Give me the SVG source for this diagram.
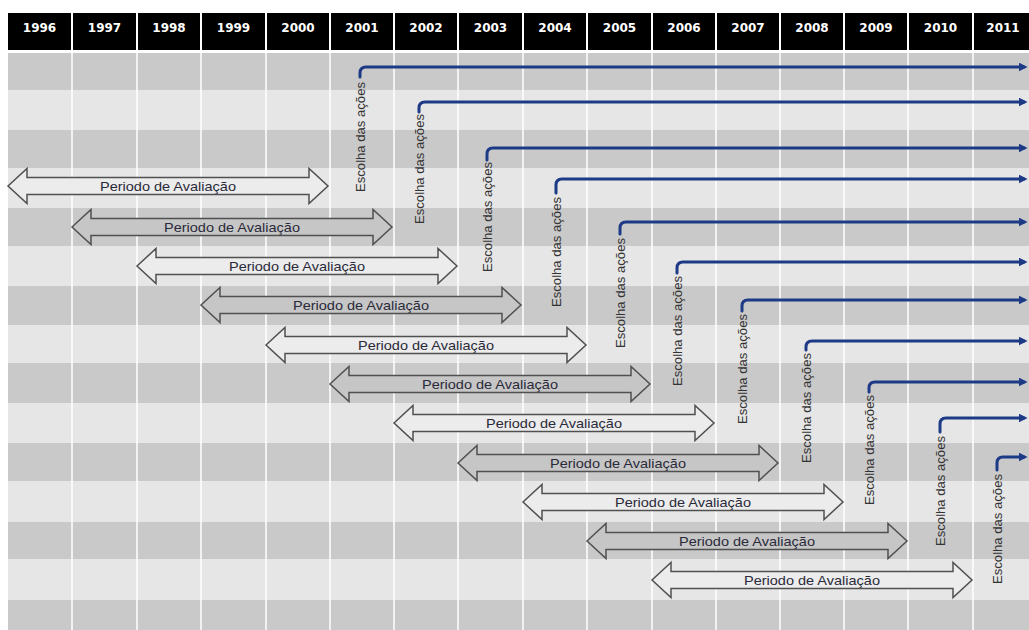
<svg xmlns="http://www.w3.org/2000/svg" xmlns:xlink="http://www.w3.org/1999/xlink" width="1029" height="630" viewBox="0 0 1029 630">
<style>
.hdr{fill:#000}
.yr{fill:#fff;font-family:"DejaVu Sans",Verdana,sans-serif;font-weight:bold;font-size:12px;text-anchor:middle}
.rd{fill:#c9c9c9}
.rl{fill:#e6e6e6}
.col{stroke:#ffffff;stroke-opacity:0.75;stroke-width:2}
.pl{fill:#ececec;stroke:#505050;stroke-width:1.5}
.pd{fill:#c6c6c6;stroke:#505050;stroke-width:1.5}
.pt{fill:#2a2a3a;font-family:"Liberation Sans",Arial,sans-serif;font-size:13px;text-anchor:middle}
.ct{fill:#333;font-family:"Liberation Sans",Arial,sans-serif;font-size:13px;text-anchor:middle}
.cn{fill:none;stroke:#1c3a86;stroke-width:3;stroke-linecap:round;marker-end:url(#ah)}
</style>
<defs>
<marker id="ah" viewBox="0 0 10 10" refX="6" refY="5" markerWidth="3" markerHeight="3" orient="auto" markerUnits="strokeWidth">
<path d="M0,0 L10,5 L0,10 Z" fill="#1c3a86"/>
</marker>
<path id="pa" d="M0,0 L19,-17.5 L19,-8.5 L301,-8.5 L301,-17.5 L320,0 L301,17.5 L301,8.5 L19,8.5 L19,17.5 Z"/>
</defs>
<rect width="1029" height="630" fill="#fff"/>
<g id="header">
<rect class="hdr" x="8" y="13" width="63" height="37"/>
<rect class="hdr" x="73" y="13" width="63" height="37"/>
<rect class="hdr" x="138" y="13" width="62" height="37"/>
<rect class="hdr" x="202" y="13" width="63" height="37"/>
<rect class="hdr" x="267" y="13" width="62" height="37"/>
<rect class="hdr" x="331" y="13" width="62" height="37"/>
<rect class="hdr" x="395" y="13" width="62" height="37"/>
<rect class="hdr" x="459" y="13" width="63" height="37"/>
<rect class="hdr" x="524" y="13" width="62" height="37"/>
<rect class="hdr" x="588" y="13" width="63" height="37"/>
<rect class="hdr" x="653" y="13" width="62" height="37"/>
<rect class="hdr" x="717" y="13" width="62" height="37"/>
<rect class="hdr" x="781" y="13" width="62" height="37"/>
<rect class="hdr" x="845" y="13" width="62" height="37"/>
<rect class="hdr" x="909" y="13" width="63" height="37"/>
<rect class="hdr" x="974" y="13" width="55" height="37"/>
<text class="yr" x="39.5" y="32">1996</text>
<text class="yr" x="104.5" y="32">1997</text>
<text class="yr" x="169" y="32">1998</text>
<text class="yr" x="233.5" y="32">1999</text>
<text class="yr" x="298" y="32">2000</text>
<text class="yr" x="362" y="32">2001</text>
<text class="yr" x="426" y="32">2002</text>
<text class="yr" x="490.5" y="32">2003</text>
<text class="yr" x="555" y="32">2004</text>
<text class="yr" x="619.5" y="32">2005</text>
<text class="yr" x="684" y="32">2006</text>
<text class="yr" x="748" y="32">2007</text>
<text class="yr" x="812" y="32">2008</text>
<text class="yr" x="876" y="32">2009</text>
<text class="yr" x="940.5" y="32">2010</text>
<text class="yr" x="1003" y="32">2011</text>
</g>
<g id="grid">
<rect class="rd" x="8" y="53" width="1021" height="37"/>
<rect class="rl" x="8" y="90" width="1021" height="40"/>
<rect class="rd" x="8" y="130" width="1021" height="38"/>
<rect class="rl" x="8" y="168" width="1021" height="40"/>
<rect class="rd" x="8" y="208" width="1021" height="38"/>
<rect class="rl" x="8" y="246" width="1021" height="40"/>
<rect class="rd" x="8" y="286" width="1021" height="39"/>
<rect class="rl" x="8" y="325" width="1021" height="38"/>
<rect class="rd" x="8" y="363" width="1021" height="40"/>
<rect class="rl" x="8" y="403" width="1021" height="40"/>
<rect class="rd" x="8" y="443" width="1021" height="38"/>
<rect class="rl" x="8" y="481" width="1021" height="41"/>
<rect class="rd" x="8" y="522" width="1021" height="37"/>
<rect class="rl" x="8" y="559" width="1021" height="41"/>
<rect class="rd" x="8" y="600" width="1021" height="30"/>
<g class="col">
<line x1="72" y1="53" x2="72" y2="630"/>
<line x1="137" y1="53" x2="137" y2="630"/>
<line x1="201" y1="53" x2="201" y2="630"/>
<line x1="266" y1="53" x2="266" y2="630"/>
<line x1="330" y1="53" x2="330" y2="630"/>
<line x1="394" y1="53" x2="394" y2="630"/>
<line x1="458" y1="53" x2="458" y2="630"/>
<line x1="523" y1="53" x2="523" y2="630"/>
<line x1="587" y1="53" x2="587" y2="630"/>
<line x1="652" y1="53" x2="652" y2="630"/>
<line x1="716" y1="53" x2="716" y2="630"/>
<line x1="780" y1="53" x2="780" y2="630"/>
<line x1="844" y1="53" x2="844" y2="630"/>
<line x1="908" y1="53" x2="908" y2="630"/>
<line x1="973" y1="53" x2="973" y2="630"/>
</g>
</g>
<g id="period1996"><use xlink:href="#pa" class="pl" transform="translate(8,186)"/><text class="pt" x="168" y="190.5" textLength="136" lengthAdjust="spacingAndGlyphs">Periodo de Avaliação</text></g>
<g id="period1997"><use xlink:href="#pa" class="pd" transform="translate(72,227)"/><text class="pt" x="232" y="231.5" textLength="136" lengthAdjust="spacingAndGlyphs">Periodo de Avaliação</text></g>
<g id="period1998"><use xlink:href="#pa" class="pl" transform="translate(137,266)"/><text class="pt" x="297" y="270.5" textLength="136" lengthAdjust="spacingAndGlyphs">Periodo de Avaliação</text></g>
<g id="period1999"><use xlink:href="#pa" class="pd" transform="translate(201,305)"/><text class="pt" x="361" y="309.5" textLength="136" lengthAdjust="spacingAndGlyphs">Periodo de Avaliação</text></g>
<g id="period2000"><use xlink:href="#pa" class="pl" transform="translate(266,345)"/><text class="pt" x="426" y="349.5" textLength="136" lengthAdjust="spacingAndGlyphs">Periodo de Avaliação</text></g>
<g id="period2001"><use xlink:href="#pa" class="pd" transform="translate(330,384)"/><text class="pt" x="490" y="388.5" textLength="136" lengthAdjust="spacingAndGlyphs">Periodo de Avaliação</text></g>
<g id="period2002"><use xlink:href="#pa" class="pl" transform="translate(394,423)"/><text class="pt" x="554" y="427.5" textLength="136" lengthAdjust="spacingAndGlyphs">Periodo de Avaliação</text></g>
<g id="period2003"><use xlink:href="#pa" class="pd" transform="translate(458,463)"/><text class="pt" x="618" y="467.5" textLength="136" lengthAdjust="spacingAndGlyphs">Periodo de Avaliação</text></g>
<g id="period2004"><use xlink:href="#pa" class="pl" transform="translate(523,502)"/><text class="pt" x="683" y="506.5" textLength="136" lengthAdjust="spacingAndGlyphs">Periodo de Avaliação</text></g>
<g id="period2005"><use xlink:href="#pa" class="pd" transform="translate(587,541)"/><text class="pt" x="747" y="545.5" textLength="136" lengthAdjust="spacingAndGlyphs">Periodo de Avaliação</text></g>
<g id="period2006"><use xlink:href="#pa" class="pl" transform="translate(652,580)"/><text class="pt" x="812" y="584.5" textLength="136" lengthAdjust="spacingAndGlyphs">Periodo de Avaliação</text></g>
<g id="choice2001"><text class="ct" transform="translate(364.5,137) rotate(-90)" textLength="110" lengthAdjust="spacingAndGlyphs">Escolha das ações</text></g>
<g id="choice2002"><text class="ct" transform="translate(423.5,169) rotate(-90)" textLength="110" lengthAdjust="spacingAndGlyphs">Escolha das ações</text></g>
<g id="choice2003"><text class="ct" transform="translate(491.5,217) rotate(-90)" textLength="110" lengthAdjust="spacingAndGlyphs">Escolha das ações</text></g>
<g id="choice2004"><text class="ct" transform="translate(560.5,252) rotate(-90)" textLength="110" lengthAdjust="spacingAndGlyphs">Escolha das ações</text></g>
<g id="choice2005"><text class="ct" transform="translate(624.5,293) rotate(-90)" textLength="110" lengthAdjust="spacingAndGlyphs">Escolha das ações</text></g>
<g id="choice2006"><text class="ct" transform="translate(681.5,331) rotate(-90)" textLength="110" lengthAdjust="spacingAndGlyphs">Escolha das ações</text></g>
<g id="choice2007"><text class="ct" transform="translate(746.5,369) rotate(-90)" textLength="110" lengthAdjust="spacingAndGlyphs">Escolha das ações</text></g>
<g id="choice2008"><text class="ct" transform="translate(810.5,408) rotate(-90)" textLength="110" lengthAdjust="spacingAndGlyphs">Escolha das ações</text></g>
<g id="choice2009"><text class="ct" transform="translate(873.5,450) rotate(-90)" textLength="110" lengthAdjust="spacingAndGlyphs">Escolha das ações</text></g>
<g id="choice2010"><text class="ct" transform="translate(944.5,491) rotate(-90)" textLength="110" lengthAdjust="spacingAndGlyphs">Escolha das ações</text></g>
<g id="choice2011"><text class="ct" transform="translate(1001.5,529) rotate(-90)" textLength="110" lengthAdjust="spacingAndGlyphs">Escolha das ações</text></g>
<g id="connectors">
<path class="cn" d="M360,77 V73 Q360,67 366,67 H1024"/>
<path class="cn" d="M419,112 V108 Q419,102 425,102 H1024"/>
<path class="cn" d="M487,160 V154 Q487,148 493,148 H1024"/>
<path class="cn" d="M556,193 V185 Q556,179 562,179 H1024"/>
<path class="cn" d="M620,234 V228 Q620,222 626,222 H1024"/>
<path class="cn" d="M677,273 V268 Q677,262 683,262 H1024"/>
<path class="cn" d="M742,311 V306 Q742,300 748,300 H1024"/>
<path class="cn" d="M806,350 V347 Q806,341 812,341 H1024"/>
<path class="cn" d="M869,392 V388 Q869,382 875,382 H1024"/>
<path class="cn" d="M940,432 V424 Q940,418 946,418 H1024"/>
<path class="cn" d="M997,470 V463 Q997,457 1003,457 H1024"/>
</g>
</svg>
